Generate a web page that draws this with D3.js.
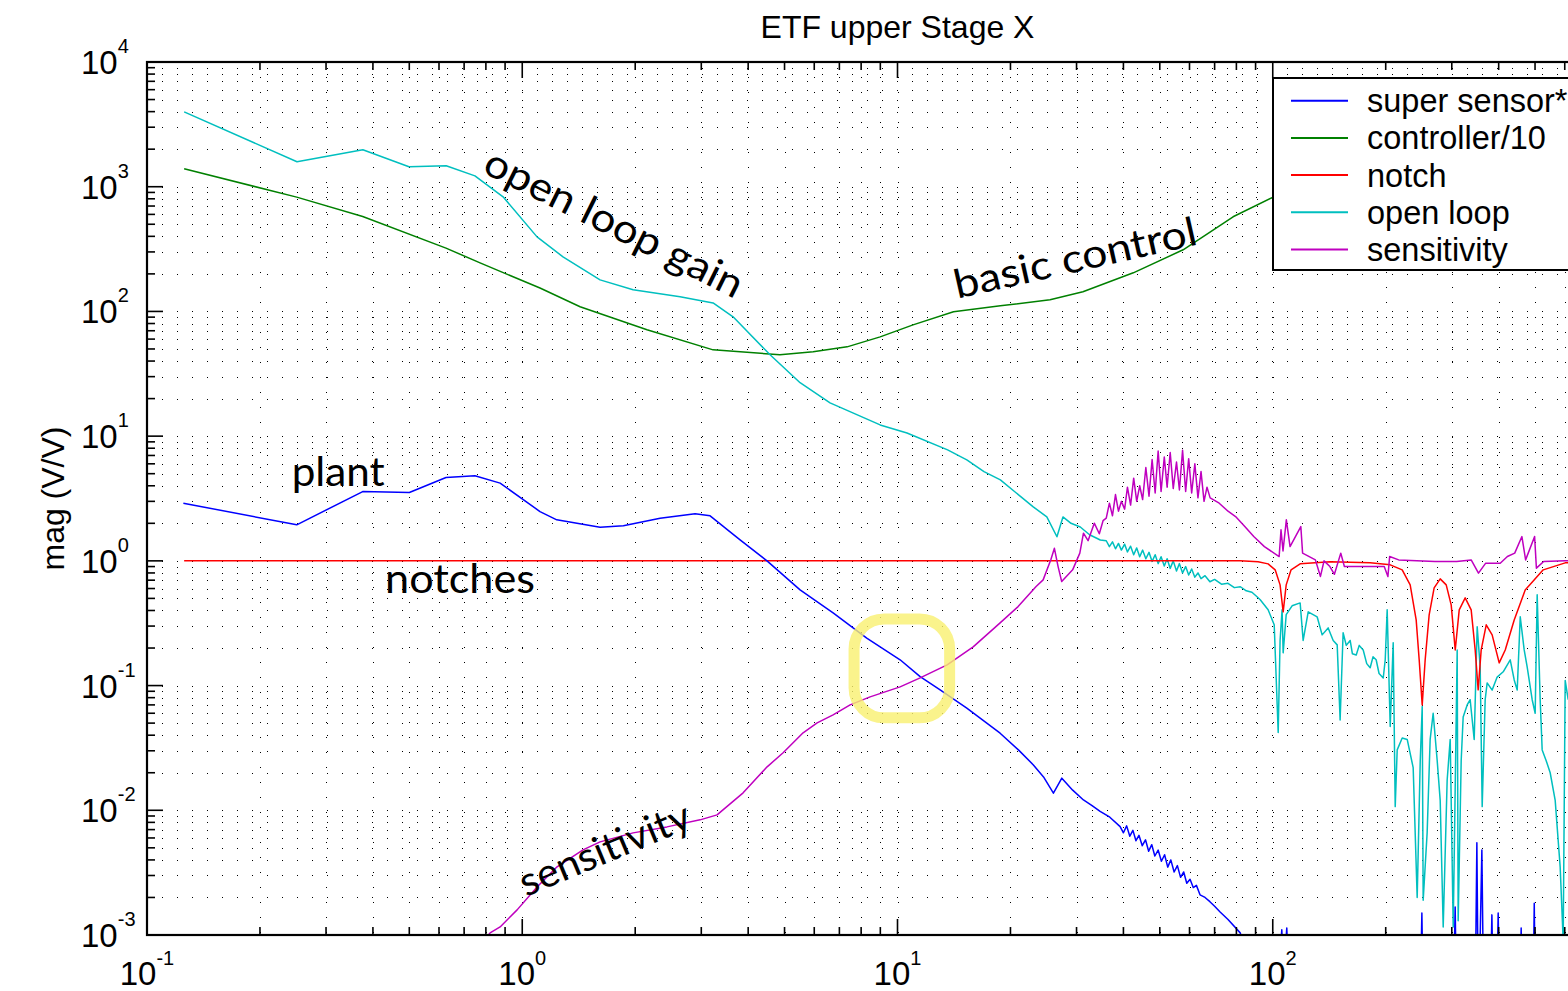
<!DOCTYPE html>
<html>
<head>
<meta charset="utf-8">
<script src="https://cdn.jsdelivr.net/npm/d3@7"></script>
<style>
    body { margin: 0; background: #fff; }
    svg { display: block; }
    text { font-family: "Liberation Sans", Arial, Helvetica, sans-serif; fill: #000; }
    .note { font-family: Lato, "Open Sans", sans-serif; }
</style>
</head>
<body>
<svg id="chart" width="1568" height="991"></svg>
<script>
// series values: [frequency (Hz), magnitude (V/V)]
const superSensor = [
    [0.125, 2.9], [0.2506, 1.944], [0.3757, 3.595], [0.5002, 3.53], [0.6263, 4.656], [0.748, 4.805],
    [0.873, 4.2], [1.115, 2.485], [1.236, 2.133], [1.612, 1.863], [1.86, 1.909], [2.33, 2.2],
    [2.888, 2.382], [3.167, 2.296], [3.806, 1.474], [4.49, 1.0], [5.5, 0.585], [6.75, 0.381],
    [8.28, 0.24], [10.16, 0.161], [11.49, 0.118], [12.99, 0.0924], [15.3, 0.0659], [18.77, 0.0415],
    [21, 0.0305], [23.02, 0.0231], [24.5, 0.0185], [26.03, 0.0137], [27.41, 0.0181], [29.3, 0.0145],
    [31.3, 0.0121], [33, 0.0109], [34.67, 0.0098], [36.8, 0.0088], [39.2, 0.0074], [40, 0.0066],
    [40.8, 0.0075], [41.6, 0.0062], [42.4, 0.0069], [43.2, 0.0057], [44, 0.0063], [44.9, 0.0052],
    [45.8, 0.0058], [46.7, 0.0047], [47.6, 0.0053], [48.5, 0.0043], [49.5, 0.0048], [50.5, 0.0039],
    [51.5, 0.0044], [52.5, 0.0035], [53.5, 0.0040], [54.6, 0.0032], [55.7, 0.0036], [56.8, 0.0029],
    [57.9, 0.0032], [59, 0.0026], [60.2, 0.0028], [61.4, 0.0024], [62.6, 0.0025], [64, 0.0021],
    [66, 0.0020], [68, 0.00185], [70, 0.0017], [72.4, 0.00153], [76, 0.00133], [81.9, 0.00104],
    [84.4, 0.0008], [104, 0.0005], [105.7, 0.0011], [107, 0.0005], [109, 0.00114], [110, 0.0005],
    [248, 0.0005], [249.7, 0.0015], [251, 0.0005], [304, 0.0005], [306.3, 0.00168], [308, 0.0005],
    [347, 0.0005], [349.9, 0.0055], [352, 0.0007], [356, 0.0006], [360.8, 0.0048], [364, 0.0005],
    [381, 0.0005], [383.7, 0.00145], [386, 0.0005], [396, 0.0005], [398.8, 0.0015], [401, 0.0005],
    [457, 0.0005], [459.2, 0.00114], [461, 0.0005], [495, 0.0005], [497.6, 0.0018], [500, 0.0005],
    [1000, 0.0005]
];
const controller = [
    [0.1256, 1393], [0.2506, 825], [0.3757, 577], [0.6263, 322], [0.772, 245], [1.115, 154],
    [1.426, 109], [2.15, 71.2], [3.225, 49.2], [4.86, 44.9], [5.96, 47.4], [7.34, 52], [8.99, 62.5],
    [11.0, 78], [14.1, 99.3], [18.8, 111], [25.5, 124], [31.2, 144], [42.5, 204], [57.7, 312],
    [78.4, 574], [99.5, 815], [150, 1300], [300, 2500], [1000, 5000]
];
const notch = [
    [0.1256, 1], [81.9, 1], [91.4, 0.982], [97.2, 0.946], [101.5, 0.847], [104.6, 0.642], [106.6, 0.39],
    [108.6, 0.642], [111.9, 0.847], [118.3, 0.946], [142.2, 0.982], [181.8, 0.964], [205.6, 0.929],
    [221.3, 0.847], [232.4, 0.642], [241.1, 0.336], [245.6, 0.161], [250.2, 0.07], [254.8, 0.161],
    [261.1, 0.369], [269.2, 0.607], [279.4, 0.717], [289.9, 0.642], [298.9, 0.444], [306.4, 0.193],
    [314.0, 0.405], [325.7, 0.505], [337.9, 0.405], [346.3, 0.193], [352.7, 0.0924], [359.3, 0.193],
    [370.6, 0.307], [384.3, 0.255], [401.3, 0.152], [416.4, 0.193], [440.0, 0.336], [470.7, 0.585],
    [525.7, 0.847], [601.6, 0.964], [1000, 1]
];
const openLoop = [
    [0.1256, 3985], [0.251, 1585], [0.376, 1977], [0.499, 1445], [0.627, 1471], [0.748, 1222],
    [0.889, 830], [1.095, 396], [1.284, 274], [1.612, 179], [1.974, 149], [2.634, 131], [3.225, 117],
    [3.646, 90.5], [4.575, 44.9], [5.50, 26.8], [6.61, 18.5], [8.99, 12.3], [10.6, 10.6], [13.6, 7.76],
    [15.3, 6.46], [17, 5.2], [18.8, 4.46], [20.5, 3.6], [23.0, 2.71], [25.0, 2.25], [26.6, 1.56],
    [27.6, 2.25], [29, 2.0], [30.7, 1.87], [32.5, 1.62], [34.7, 1.47], [36, 1.45], [36.7, 1.30],
    [37.4, 1.42], [38.1, 1.25], [38.8, 1.38], [39.5, 1.22], [40.3, 1.36], [41.0, 1.18], [41.8, 1.31],
    [42.6, 1.12], [43.4, 1.27], [44.2, 1.08], [45.0, 1.22], [45.9, 1.04], [46.8, 1.17], [47.7, 0.99],
    [48.6, 1.12], [49.5, 0.95], [50.4, 1.08], [51.4, 0.91], [52.3, 1.04], [53.3, 0.87], [54.3, 1.0],
    [55.4, 0.83], [56.4, 0.95], [57.5, 0.80], [58.6, 0.90], [59.7, 0.77], [60.8, 0.86], [62.0, 0.74],
    [63.2, 0.80], [64.4, 0.72], [66, 0.76], [68, 0.68], [70, 0.71], [73, 0.65], [76, 0.66], [79, 0.61],
    [82, 0.62], [85, 0.575], [88, 0.56], [90.5, 0.52], [92.6, 0.487], [97.2, 0.405], [100.9, 0.307],
    [103.4, 0.042], [104.6, 0.23], [105.9, 0.405], [106.6, 0.183], [108.6, 0.37], [112.6, 0.436],
    [118.3, 0.46], [120.5, 0.23], [124.3, 0.39], [131.3, 0.356], [135.4, 0.255], [140.5, 0.29],
    [144.9, 0.23], [148.5, 0.212], [151.2, 0.053], [154.0, 0.265], [157, 0.21], [160.8, 0.23],
    [163, 0.18], [166.9, 0.176], [170, 0.21], [174.2, 0.193], [178, 0.15], [181.8, 0.139],
    [185, 0.17], [188.6, 0.161], [192, 0.125], [197.0, 0.115], [199.4, 0.161], [201.8, 0.405],
    [205.6, 0.047], [209.4, 0.22], [212.0, 0.0107], [214.6, 0.0305], [221.3, 0.038], [228.2, 0.037],
    [236.7, 0.022], [242.6, 0.002], [247.2, 0.025], [250.2, 0.068], [251.7, 0.0019], [257.9, 0.0066],
    [262.7, 0.037], [267.6, 0.06], [274.3, 0.025], [279.4, 0.012], [284.6, 0.00116], [291.6, 0.0175],
    [297.1, 0.037], [302.6, 0.00116], [310.1, 0.193], [312.0, 0.0013], [317.8, 0.025], [321.7, 0.056],
    [329.7, 0.07], [335.8, 0.077], [344.2, 0.037], [350.6, 0.296], [357.1, 0.141], [361.5, 0.0107],
    [368.2, 0.077], [372.7, 0.105], [384.3, 0.092], [396.3, 0.117], [411.3, 0.129], [429.4, 0.161],
    [440.0, 0.111], [448.2, 0.092], [456.6, 0.356], [467.8, 0.193], [476.4, 0.141], [491.3, 0.077],
    [500.4, 0.06], [506.6, 0.534], [516.0, 0.077], [522.4, 0.0305], [535.4, 0.025], [548.7, 0.02],
    [565.8, 0.012], [583.4, 0.0035], [594.3, 0.0009], [601.6, 0.11], [612.8, 0.077]
];
const sensitivity = [
    [0.772, 0.00083], [0.821, 0.00104], [0.873, 0.00116], [0.969, 0.00159], [1.095, 0.00243],
    [1.238, 0.00352], [1.452, 0.00481], [1.612, 0.00558], [1.974, 0.00659], [2.43, 0.00736],
    [2.978, 0.00838], [3.305, 0.00919], [3.878, 0.0138], [4.493, 0.0223], [4.957, 0.0289],
    [5.603, 0.0418], [6.107, 0.0502], [6.735, 0.0582], [7.477, 0.070], [8.453, 0.0812],
    [10.16, 0.0976], [11.49, 0.1153], [13.56, 0.1466], [15.91, 0.2043], [18.77, 0.3184],
    [20.96, 0.43], [23.41, 0.622], [24.44, 0.704], [25.62, 1.02], [26.19, 1.26], [26.79, 0.90],
    [27.39, 0.682], [29.29, 0.847], [30.61, 1.153], [31.3, 1.668], [32.2, 1.45], [33.45, 2.006],
    [34.5, 1.65], [35.3, 2.1], [36, 2.2], [36.7, 2.9], [37.4, 2.3], [38.1, 3.4], [38.8, 2.5],
    [39.5, 3.0], [40.3, 2.6], [41.0, 3.9], [41.8, 2.8], [42.6, 4.6], [43.4, 3.0], [44.2, 4.0],
    [45.0, 3.1], [45.9, 5.6], [46.8, 3.3], [47.7, 6.5], [48.6, 3.5], [49.5, 7.6], [50.4, 3.6],
    [51.4, 6.8], [52.3, 3.9], [53.3, 7.4], [54.3, 3.8], [55.4, 6.2], [56.4, 3.7], [57.5, 7.7],
    [58.6, 3.6], [59.7, 6.6], [60.8, 3.5], [62.0, 6.0], [63.2, 3.2], [64.4, 5.2], [65.6, 3.0],
    [66.8, 3.9], [68.1, 3.2], [72, 2.9], [76, 2.5], [79.6, 2.266], [84, 1.9], [89.0, 1.566],
    [95, 1.3], [104.0, 1.083], [105.2, 1.773], [106.5, 1.2], [108.7, 2.133], [111.2, 1.302],
    [118.8, 1.884], [120.1, 1.153], [129.9, 1.018], [134, 0.75], [137, 1.0], [142.0, 0.90],
    [146, 0.78], [151.8, 1.153], [155.2, 0.90], [173.4, 0.90], [198.2, 0.90], [202.7, 0.748],
    [204.9, 1.083], [216.6, 1.018], [270.5, 0.987], [309.1, 0.987], [337.9, 1.018], [353.4, 0.797],
    [369.4, 0.958], [403.8, 0.958], [422.0, 1.083], [441.4, 1.153], [461.3, 1.566], [471.9, 1.018],
    [498.7, 1.566], [504.2, 0.874], [527.2, 0.987], [601.6, 1.0], [1000, 1.0]
];

const seriesNames = ['super sensor*', 'controller/10', 'notch', 'open loop', 'sensitivity'];
const seriesColors = ['#0000ff', '#008000', '#ff0000', '#00bfbf', '#bf00bf'];
const xTickExponents = [-1, 0, 1, 2];
const yTickExponents = [4, 3, 2, 1, 0, -1, -2, -3];
const titleText = 'ETF upper Stage X';
const yLabelText = 'mag (V/V)';
const noteTexts = ['plant', 'notches', 'open loop gain', 'basic control', 'sensitivity'];

(function() {
    const svg = d3.select('#chart');
    const left = 147, right = 1648, top = 62, bottom = 935;

    const x = d3.scaleLog().domain([0.1, 1000]).range([left, right]);
    const y = d3.scaleLog().domain([0.001, 10000]).range([bottom, top]);

    svg.append('rect').attr('width', 1568).attr('height', 991).attr('fill', '#fff');

    // log tick values (major = power of ten)
    function logTicks(lo, hi) {
        const out = [];
        for (let e = lo; e <= hi; e++) {
            for (let m = 1; m <= 9; m++) {
                const v = m * Math.pow(10, e);
                out.push({ v: v, major: m === 1 });
                if (e === hi) break;
            }
        }
        return out;
    }
    const xt = logTicks(-1, 3);
    const yt = logTicks(-3, 4);

    // dotted grid (matlab ':' style)
    const grid = svg.append('g')
        .attr('stroke', '#000')
        .attr('stroke-width', 1)
        .attr('stroke-dasharray', '1,14')
        .attr('shape-rendering', 'crispEdges');
    grid.selectAll('line.gx')
        .data(xt.filter(d => d.v > 0.1 && d.v < 1000))
        .enter().append('line')
        .attr('x1', d => Math.round(x(d.v)) + 0.5).attr('x2', d => Math.round(x(d.v)) + 0.5)
        .attr('y1', top).attr('y2', bottom);
    grid.selectAll('line.gy')
        .data(yt.filter(d => d.v > 0.001 && d.v < 10000))
        .enter().append('line')
        .attr('x1', left).attr('x2', right)
        .attr('y1', d => Math.round(y(d.v)) + 0.5).attr('y2', d => Math.round(y(d.v)) + 0.5);

    // curves
    svg.append('clipPath').attr('id', 'plotclip')
        .append('rect').attr('x', left).attr('y', top)
        .attr('width', right - left).attr('height', bottom - top);

    const line = d3.line().x(d => x(d[0])).y(d => y(d[1]));
    const allSeries = [superSensor, controller, notch, openLoop, sensitivity];
    const drawOrder = [1, 3, 2, 0, 4];
    const curves = svg.append('g').attr('clip-path', 'url(#plotclip)');
    drawOrder.forEach(i => {
        curves.append('path')
            .attr('d', line(allSeries[i]))
            .attr('fill', 'none')
            .attr('stroke', seriesColors[i])
            .attr('stroke-width', 1.5)
            .attr('stroke-linejoin', 'round');
    });

    // frame and ticks
    svg.append('rect')
        .attr('x', left).attr('y', top)
        .attr('width', right - left).attr('height', bottom - top)
        .attr('fill', 'none').attr('stroke', '#000').attr('stroke-width', 2.2);

    const ticks = svg.append('g').attr('stroke', '#000').attr('stroke-width', 1.6);
    xt.forEach(d => {
        const len = d.major ? 16 : 8;
        ticks.append('line').attr('x1', x(d.v)).attr('x2', x(d.v)).attr('y1', bottom).attr('y2', bottom - len);
        ticks.append('line').attr('x1', x(d.v)).attr('x2', x(d.v)).attr('y1', top).attr('y2', top + len);
    });
    yt.forEach(d => {
        const len = d.major ? 16 : 8;
        ticks.append('line').attr('x1', left).attr('x2', left + len).attr('y1', y(d.v)).attr('y2', y(d.v));
        ticks.append('line').attr('x1', right).attr('x2', right - len).attr('y1', y(d.v)).attr('y2', y(d.v));
    });

    // tick labels with exponents
    xTickExponents.forEach(e => {
        const t = svg.append('text')
            .attr('x', x(Math.pow(10, e)))
            .attr('y', 985)
            .attr('text-anchor', 'middle')
            .style('font-size', '33px');
        t.append('tspan').text('10');
        t.append('tspan').attr('dy', -20).style('font-size', '20px').text(e);
    });
    yTickExponents.forEach(e => {
        const t = svg.append('text')
            .attr('x', 81)
            .attr('y', y(Math.pow(10, e)) + 12)
            .style('font-size', '33px');
        t.append('tspan').text('10');
        t.append('tspan').attr('dy', -21).style('font-size', '20px').text(e);
    });

    // title and axis label
    svg.append('text')
        .attr('x', (left + right) / 2).attr('y', 38)
        .attr('text-anchor', 'middle')
        .style('font-size', '32px')
        .text(titleText);
    svg.append('text')
        .attr('transform', 'translate(64,' + ((top + bottom) / 2) + ') rotate(-90)')
        .attr('text-anchor', 'middle')
        .style('font-size', '32px')
        .text(yLabelText);

    // legend
    const lg = svg.append('g');
    lg.append('rect')
        .attr('x', 1273).attr('y', 78).attr('width', 368).attr('height', 192)
        .attr('fill', '#fff').attr('stroke', '#000').attr('stroke-width', 2);
    seriesNames.forEach((name, i) => {
        const cy = 100.7 + i * 37.2;
        lg.append('line')
            .attr('x1', 1291).attr('x2', 1348).attr('y1', cy).attr('y2', cy)
            .attr('stroke', seriesColors[i]).attr('stroke-width', 2);
        lg.append('text')
            .attr('x', 1367).attr('y', cy + 11.5)
            .style('font-size', '32.5px')
            .text(name);
    });

    // hand-written annotations, anchored in data coordinates
    const notes = [
        { f: 0.243, m: 4.0, angle: 0, len: 93 },
        { f: 0.4308, m: 0.554, angle: 0, len: 150 },
        { f: 0.7765, m: 1317, angle: 26.6, len: 284 },
        { f: 14.42, m: 126.2, angle: -12.7, len: 248 },
        { f: 1.0235, m: 0.00202, angle: -22.7, len: 182 }
    ];
    notes.forEach((n, i) => {
        svg.append('text')
            .attr('class', 'note')
            .attr('transform', 'translate(' + x(n.f) + ',' + y(n.m) + ') rotate(' + n.angle + ')')
            .attr('textLength', n.len)
            .attr('lengthAdjust', 'spacingAndGlyphs')
            .style('font-size', '40px')
            .text(noteTexts[i]);
    });

    // highlight around the crossover
    const hx0 = x(7.66), hx1 = x(13.77), hy0 = y(0.3426), hy1 = y(0.0551);
    svg.append('rect')
        .attr('x', hx0).attr('y', hy0)
        .attr('width', hx1 - hx0).attr('height', hy1 - hy0)
        .attr('rx', 30).attr('ry', 30)
        .attr('fill', 'none')
        .attr('stroke', 'rgb(249,240,111)')
        .attr('stroke-opacity', 0.8)
        .attr('stroke-width', 11);
})();
</script>
</body>
</html>
